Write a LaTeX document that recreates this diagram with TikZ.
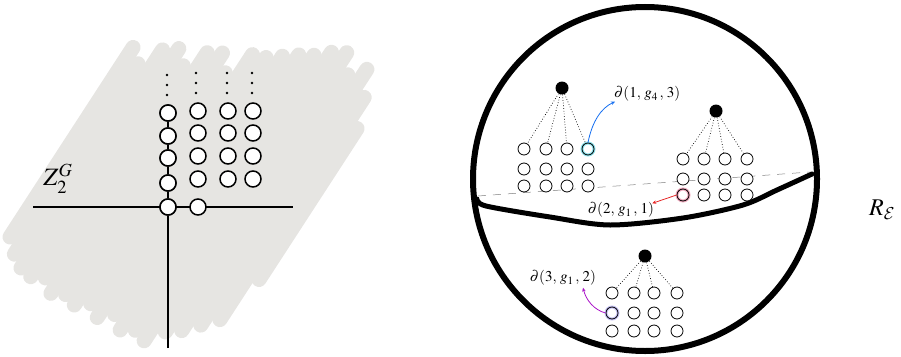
\documentclass[tikz,border=0pt]{standalone}
\usepackage{mathptmx}
\DeclareMathAlphabet{\mathcal}{OMS}{cmsy}{m}{n}
\usetikzlibrary{arrows.meta}
\definecolor{brush}{RGB}{230,229,226}
\definecolor{arrblue}{RGB}{20,110,240}
\definecolor{arrred}{RGB}{230,40,40}
\definecolor{arrpurple}{RGB}{170,20,200}
\definecolor{glowcyan}{RGB}{140,225,235}
\definecolor{glowpink}{RGB}{240,170,190}
\definecolor{glowlav}{RGB}{200,195,245}
\begin{document}
\begin{tikzpicture}[x=1pt,y=-1pt,
  brushstroke/.style={line width=15pt, line cap=round, draw=brush},
  bigc/.style={circle, draw, line width=1.5pt, fill=white, minimum size=16pt, inner sep=0pt},
  smc/.style={circle, draw, line width=0.8pt, fill=white, minimum size=12pt, inner sep=0pt},
  topdot/.style={circle, fill=black, minimum size=13pt, inner sep=0pt},
  vdot/.style={circle, fill=black, minimum size=2.6pt, inner sep=0pt},
  tie/.style={dotted, line width=0.7pt},
  lab/.style={font=\fontsize{15}{17}\selectfont, inner sep=0pt},
  arr/.style={-{Stealth[length=4pt,width=3.5pt]}, line width=0.8pt},
]
\useasboundingbox (0,0) rectangle (901,356);

% ---------- grey brush background ----------
\begin{scope}[shift={(10,237)}, rotate=57]
\foreach \s/\tb/\tt in {0/0/226, 13/-12/215, 26/-20/240, 39/-22/250, 52/-15/238,
  65/-25/262, 78/-18/270, 91/-22/255, 104/-12/285, 117/-20/290, 130/-8/300,
  143/-18/310, 156/-10/318, 169/-14/330, 182/5/338, 195/15/320, 208/30/335,
  221/45/310, 232/100/280}
  \draw[brushstroke] (\tb,\s) -- (\tt,\s);
\end{scope}

% ---------- left lattice ----------
\coordinate (hl) at (33,207);
\coordinate (hr) at (293,207);
\coordinate (vb) at (168,348);
\draw[line width=1.5pt] (hl) -- (hr);
\node[bigc] (o) at (168,207) {};
\node[bigc] (e) at (198,207) {};
\foreach \r/\y in {1/183,2/158,3/136,4/113}
  \node[bigc] (L1\r) at (168,\y) {};
\draw[line width=1.5pt] (vb) -- (o) -- (L11) -- (L12) -- (L13) -- (L14);
\foreach \r/\y in {1/183,2/158,3/136,4/113}
  \node[bigc] (L1\r) at (168,\y) {};
\node[bigc] (o) at (168,207) {};
\foreach \c/\x in {2/198,3/228,4/253}
  \foreach \r/\y in {1/179,2/156,3/133,4/111}
    \node[bigc] (L\c\r) at (\x,\y) {};
\foreach \x/\yo in {167/2,196/0,227/0,252/0}
  \foreach \y in {73,83,93}
    \node[vdot] at (\x,\y+\yo) {};
\node[font=\fontsize{25}{27}\selectfont, inner sep=0pt] (zg) at (58,179) {$Z_2^G$};

% ---------- sphere ----------
\draw[gray, line width=0.5pt, dash pattern=on 8pt off 7pt] (478,196) -- (810,172);
\node[circle, draw, line width=6pt, minimum size=344pt, inner sep=0pt] (sphere) at (645,179) {};
\draw[line width=5pt, line cap=round] plot[smooth] coordinates {(477,199) (486,206) (550,217) (610,225) (683,218) (743,205) (777,190) (812,174)};

% tree A
\node[topdot] (A) at (562,88) {};
\foreach \c/\x in {1/524,2/546,3/567,4/588}
  \foreach \r/\y in {1/149,2/169,3/186}
    \node[smc] (A\c\r) at (\x,\y) {};
\foreach \c in {1,2,3,4} \draw[tie] (A) -- (A\c1);
% tree B
\node[topdot] (B) at (716,111) {};
\foreach \c/\x in {1/683,2/704,3/725,4/747}
  \foreach \r/\y in {1/159,2/179,3/195}
    \node[smc] (B\c\r) at (\x,\y) {};
\foreach \c in {1,2,3,4} \draw[tie] (B) -- (B\c1);
% tree C
\node[topdot] (C) at (645,256) {};
\foreach \c/\x in {1/612,2/634,3/654,4/677}
  \foreach \r/\y in {1/293,2/313,3/331}
    \node[smc] (C\c\r) at (\x,\y) {};
\foreach \c in {1,2,3,4} \draw[tie] (C) -- (C\c1);

% highlighted circles
\draw[glowcyan, line width=3pt] (A41) circle[radius=6];
\draw[line width=0.8pt] (A41) circle[radius=6];
\draw[glowpink, line width=3pt] (B13) circle[radius=6];
\draw[line width=0.8pt] (B13) circle[radius=6];
\draw[glowlav, line width=3pt] (C12) circle[radius=6];
\draw[line width=0.8pt] (C12) circle[radius=6];

% labels
\node[lab, anchor=west] (l1) at (614,94) {$\partial(1,\,g_4\,,\,3)$};
\node[lab] (l2) at (621,210) {$\partial(2,\,g_1\,,\,1)$};
\node[lab] (l3) at (563,278) {$\partial(3,\,g_1\,,\,2)$};
\node[font=\fontsize{24}{26}\selectfont, inner sep=0pt] (re) at (882,210) {$R_{\mathcal{E}}$};

% arrows
\draw[arr, arrblue] (A41.north) .. controls (592,122) and (601,108) .. ([xshift=1pt]l1.south west);
\draw[arr, arrred] (B13.west) -- ([xshift=-2pt,yshift=-1pt]l2.north east);
\draw[arr, arrpurple] (C12.west) .. controls (594,310) and (586,300) .. ([xshift=20pt,yshift=-2pt]l3.south);
\end{tikzpicture}
\end{document}
